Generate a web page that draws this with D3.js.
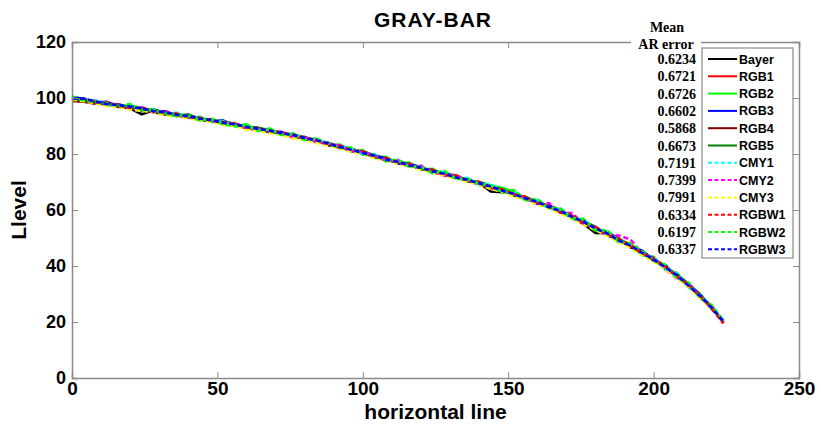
<!DOCTYPE html>
<html>
<head>
<meta charset="utf-8">
<script src="https://cdn.jsdelivr.net/npm/d3@7"></script>
<style>
  body { margin: 0; background: white; }
  text { font-family: Arial, "Liberation Sans", sans-serif; }
</style>
</head>
<body>
<div id="chart"></div>
<script>
let width = 821;
let height = 428;

// horizontal line positions (sampled every 4 px)
let xs = [0,4,8,12,16,20,24,28,32,36,40,44,48,52,56,60,64,68,72,76,80,84,88,92,96,100,
  104,108,112,116,120,124,128,132,136,140,144,148,152,156,160,164,168,172,176,180,184,
  188,192,196,200,204,208,212,216,220,224];

let names = ["Bayer","RGB1","RGB2","RGB3","RGB4","RGB5","CMY1","CMY2","CMY3","RGBW1","RGBW2","RGBW3"];
let meanErrors = ["0.6234","0.6721","0.6726","0.6602","0.5868","0.6673","0.7191","0.7399","0.7991","0.6334","0.6197","0.6337"];

let bayer = [99.6,99.1,98.9,97.7,97.6,96.3,94.2,95.6,94.3,94.5,93.0,92.9,91.6,91.5,90.1,89.9,88.5,88.4,87.0,86.8,85.3,85.0,83.2,82.8,81.0,80.6,78.8,78.4,76.7,76.3,74.6,74.2,72.5,72.1,70.3,69.8,66.6,66.4,65.9,63.8,63.1,60.8,59.8,57.2,55.0,51.8,51.7,49.0,47.4,44.5,42.7,39.3,36.9,32.9,29.5,24.9,20.3];
let rgb1 = [100.4,99.0,98.9,97.6,97.7,96.2,96.4,95.0,95.1,93.7,93.8,92.3,92.4,90.8,90.9,89.3,89.4,87.8,87.7,86.2,86.1,84.3,84.0,82.1,81.8,80.7,78.8,78.5,76.7,76.4,74.6,74.3,72.5,72.2,70.3,69.9,67.9,67.4,65.2,64.6,62.4,61.6,59.1,58.0,55.2,53.9,51.0,49.7,46.8,45.2,42.0,40.0,36.2,33.6,28.8,25.6,19.8];
let rgb2 = [99.8,99.6,98.2,98.4,96.9,97.5,95.7,96.0,94.2,94.6,92.9,93.3,91.5,92.0,89.9,90.6,88.4,89.1,86.9,87.3,85.2,85.5,83.1,83.4,80.9,81.3,78.6,79.0,76.6,76.9,74.4,74.7,72.4,72.5,70.2,70.1,68.7,67.8,66.6,63.8,63.5,60.7,60.3,56.9,56.4,52.7,52.3,48.5,48.0,43.9,43.3,38.7,37.6,32.4,30.1,24.6,20.6];
let rgb3 = [100.3,99.7,98.4,98.6,97.0,96.8,96.5,95.1,95.2,93.6,93.9,92.5,91.7,91.9,90.2,89.5,89.2,87.8,87.9,86.2,85.9,84.8,83.2,83.0,81.7,80.0,79.6,78.4,76.6,76.4,75.3,73.5,73.4,71.9,70.4,69.8,68.6,66.6,66.0,64.4,62.3,61.6,59.8,57.1,56.2,53.1,52.0,49.8,46.7,45.5,42.0,40.3,36.0,33.7,29.7,24.8,20.2];
let rgb4 = [99.0,98.7,98.0,97.9,96.8,96.4,95.9,95.0,94.1,93.8,93.2,92.2,91.7,91.0,90.3,89.4,88.8,88.0,87.2,86.5,85.4,84.9,83.4,82.7,81.2,80.6,79.0,77.8,77.3,75.7,75.2,73.6,73.1,71.5,70.9,69.2,68.5,66.7,65.9,63.8,63.2,60.8,59.8,57.4,55.9,53.7,51.1,49.5,46.9,45.0,42.6,39.1,37.0,32.8,29.6,25.4,19.7];
let rgb5 = [99.5,99.4,98.5,97.5,97.6,96.6,95.6,95.9,94.8,93.7,94.1,92.4,91.6,91.4,90.8,89.3,89.3,88.5,87.0,86.9,85.9,84.4,84.0,82.7,81.1,81.0,79.5,77.7,77.5,76.2,74.6,74.4,72.7,71.4,71.2,69.1,68.2,67.4,65.1,64.6,62.9,60.8,60.0,57.3,55.8,54.0,51.0,49.7,47.4,44.5,42.9,39.2,36.9,33.6,28.8,25.5,20.0];
let cmy1 = [100.5,99.0,99.2,97.7,97.3,97.0,95.8,95.8,94.3,94.7,93.1,93.0,91.4,91.7,90.0,90.1,88.6,88.6,87.1,87.0,85.6,85.1,83.9,82.8,82.0,80.1,80.0,77.5,77.8,75.5,75.7,73.3,73.6,71.1,71.5,68.9,69.3,66.4,66.3,63.6,63.4,60.5,60.1,56.9,56.5,52.8,52.1,48.7,47.8,44.3,43.1,38.8,37.3,32.6,29.7,25.7,20.6];
let cmy2 = [99.9,99.2,98.1,97.5,97.9,96.0,95.8,94.9,95.4,93.7,93.0,92.5,91.9,90.6,90.9,89.2,88.6,88.4,87.5,85.9,86.1,84.3,83.8,82.9,81.0,80.8,79.5,77.6,77.9,75.4,75.8,73.5,72.2,72.6,70.3,69.0,68.6,66.5,65.6,64.0,61.9,62.5,59.0,58.9,54.8,53.9,51.0,50.9,49.5,44.6,42.8,38.9,35.6,33.5,29.1,24.7,20.4];
let cmy3 = [99.4,98.9,98.1,97.2,96.8,95.9,95.4,95.0,93.9,93.6,92.7,92.1,91.4,90.4,90.1,88.7,88.4,87.4,86.8,85.6,85.0,84.0,83.0,82.1,80.7,80.0,78.6,77.7,76.5,75.6,74.4,73.5,72.2,71.4,70.1,69.0,67.6,66.5,64.8,63.6,62.1,60.5,58.7,56.9,54.8,52.9,50.8,48.6,46.4,44.1,41.6,39.0,35.7,32.7,28.5,24.9,19.9];
let rgbw1 = [100.1,99.5,98.3,98.5,97.2,96.5,96.6,95.2,94.6,94.4,93.2,92.9,91.9,91.4,90.8,89.5,89.1,88.4,87.6,86.9,85.6,85.1,83.5,82.9,81.6,80.9,79.1,78.6,77.0,76.5,74.8,74.3,72.6,72.3,70.5,70.0,68.0,67.3,65.7,64.6,62.6,61.5,59.2,58.0,55.3,53.9,51.5,49.6,47.5,44.6,42.5,39.9,36.4,33.3,29.4,24.9,19.5];
let rgbw2 = [100.6,99.1,98.7,98.2,97.0,97.8,95.8,95.5,94.4,93.5,93.8,92.0,92.6,90.6,89.9,90.4,88.2,88.9,86.8,87.1,85.0,85.4,83.9,82.2,82.3,79.9,79.8,77.4,78.0,75.5,75.4,73.1,74.0,71.2,71.0,69.4,68.8,66.3,67.1,63.5,63.9,60.9,60.5,57.0,56.8,52.9,52.7,48.9,48.1,45.3,41.9,40.4,35.8,34.0,28.7,25.9,20.3];
let rgbw3 = [99.7,99.8,98.8,97.8,97.5,96.9,96.2,95.3,94.9,94.0,93.5,92.6,92.1,91.1,90.6,89.7,89.0,88.3,87.4,86.8,85.7,84.9,83.8,82.5,81.5,80.4,79.4,78.0,77.2,75.9,75.1,73.8,73.0,71.6,70.8,69.5,68.4,66.9,65.7,64.1,62.9,61.0,59.6,57.5,55.7,53.4,51.6,49.1,47.3,44.7,42.3,39.5,36.7,33.0,29.3,25.1,20.1];

let xTicks = [0,50,100,150,200,250];
let yTicks = [0,20,40,60,80,100,120];

let colors = ["#000000","#ff0000","#00ff00","#0000ff","#7f0000","#007f00",
              "#00ffff","#ff00ff","#ffff00","#ff0000","#00ff00","#0000ff"];
let dashed = [false,false,false,false,false,false,true,true,true,true,true,true];

let seriesValues = [bayer,rgb1,rgb2,rgb3,rgb4,rgb5,cmy1,cmy2,cmy3,rgbw1,rgbw2,rgbw3];
let series = names.map((n, i) => ({
  name: n, color: colors[i], dash: dashed[i], err: meanErrors[i],
  points: xs.map((x, j) => ({x: x, y: seriesValues[i][j]}))
}));

let plotLeft = 72, plotRight = 799, plotTop = 42, plotBottom = 378;
let axisColor = "#8a8a8a";

let svg = d3.select("#chart").append("svg")
  .attr("width", width)
  .attr("height", height);

let xScale = d3.scaleLinear().domain([0, 250]).range([plotLeft, plotRight]);
let yScale = d3.scaleLinear().domain([0, 120]).range([plotBottom, plotTop]);

// data lines
let line = d3.line().x(d => xScale(d.x)).y(d => yScale(d.y));

svg.append("g").selectAll("path").data(series).enter()
  .append("path")
    .attr("d", d => line(d.points))
    .attr("fill", "none")
    .attr("stroke", d => d.color)
    .attr("stroke-width", 2.7)
    .attr("stroke-linejoin", "round")
    .attr("stroke-dasharray", d => d.dash ? "5,3" : null);

// axes with ticks pointing inward, box around plot
let xAxis = d3.axisBottom(xScale).tickValues(xTicks).tickSize(-6).tickPadding(3);
let xAxisGroup = svg.append("g").attr("transform", "translate(0," + plotBottom + ")").call(xAxis);
let xTop = d3.axisTop(xScale).tickValues(xTicks).tickSize(-6).tickFormat("");
let xTopGroup = svg.append("g").attr("transform", "translate(0," + plotTop + ")").call(xTop);

let yAxis = d3.axisLeft(yScale).tickValues(yTicks).tickSize(-6).tickPadding(6);
let yAxisGroup = svg.append("g").attr("transform", "translate(" + plotLeft + ",0)").call(yAxis);
let yRight = d3.axisRight(yScale).tickValues(yTicks).tickSize(-6).tickFormat("");
let yRightGroup = svg.append("g").attr("transform", "translate(" + plotRight + ",0)").call(yRight);

[xAxisGroup, xTopGroup, yAxisGroup, yRightGroup].forEach(g => {
  g.select(".domain").attr("stroke", axisColor).attr("stroke-width", 1.5);
  g.selectAll(".tick line").attr("stroke", axisColor);
});

xAxisGroup.selectAll("text")
  .attr("fill", "black").style("font-size", "19px").style("font-weight", "bold");
yAxisGroup.selectAll("text")
  .attr("fill", "black").style("font-size", "18px").style("font-weight", "bold");

// titles
svg.append("text")
  .text("GRAY-BAR")
  .attr("x", 433).attr("y", 27)
  .attr("text-anchor", "middle")
  .style("font-size", "21px").style("font-weight", "bold")
  .style("letter-spacing", "1px");

svg.append("text")
  .text("horizontal line")
  .attr("x", (plotLeft + plotRight) / 2).attr("y", 419)
  .attr("text-anchor", "middle")
  .style("font-size", "21px").style("font-weight", "bold");

svg.append("text")
  .text("Llevel")
  .attr("transform", "translate(26," + ((plotTop + plotBottom) / 2) + ") rotate(-90)")
  .attr("text-anchor", "middle")
  .style("font-size", "21px").style("font-weight", "bold");

// legend
let legendX = 702, legendY = 48, rowH = 17.3;

svg.append("rect")
  .attr("x", legendX).attr("y", legendY)
  .attr("width", 91).attr("height", 210)
  .attr("fill", "white").attr("stroke", axisColor).attr("stroke-width", 1.2);

// white patch behind header so the top axis line breaks there
svg.append("rect")
  .attr("x", 631).attr("y", 36).attr("width", 70).attr("height", 14)
  .attr("fill", "white");

svg.append("text").text("Mean")
  .attr("x", 667).attr("y", 32).attr("text-anchor", "middle")
  .style("font-family", "'Liberation Serif', 'Times New Roman', serif")
  .style("font-size", "14px").style("font-weight", "bold");
svg.append("text").text("AR error")
  .attr("x", 666).attr("y", 49).attr("text-anchor", "middle")
  .style("font-family", "'Liberation Serif', 'Times New Roman', serif")
  .style("font-size", "14px").style("font-weight", "bold");

let rows = svg.append("g").selectAll("g").data(series).enter()
  .append("g")
    .attr("transform", (d, i) => "translate(0," + (legendY + 11 + i * rowH) + ")");

rows.append("line")
  .attr("x1", 708).attr("x2", 737)
  .attr("y1", 0).attr("y2", 0)
  .attr("stroke", d => d.color)
  .attr("stroke-width", 2)
  .attr("stroke-dasharray", d => d.dash ? "4,2.5" : null);

rows.append("text")
  .text(d => d.name)
  .attr("x", 739).attr("y", 4.5)
  .style("font-size", "12.5px").style("font-weight", "bold");

rows.append("text")
  .text(d => d.err)
  .attr("x", 696).attr("y", 5)
  .attr("text-anchor", "end")
  .style("font-family", "'Liberation Serif', 'Times New Roman', serif")
  .style("font-size", "14px").style("font-weight", "bold");
</script>
</body>
</html>
